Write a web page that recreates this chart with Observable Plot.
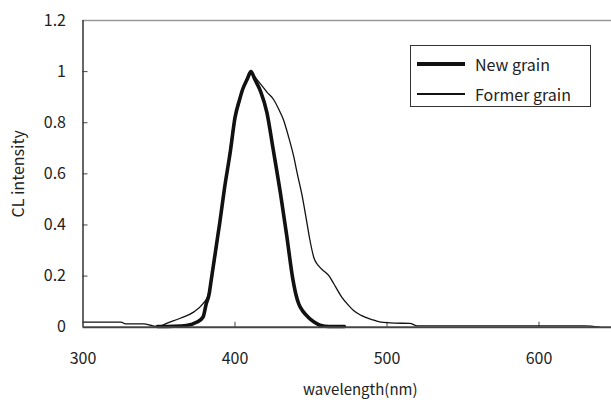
<!DOCTYPE html>
<html>
<head>
<meta charset="utf-8">
<script src="https://cdn.jsdelivr.net/npm/d3@7"></script>
<script src="https://cdn.jsdelivr.net/npm/@observablehq/plot@0.6"></script>
<style>
  html, body { margin: 0; padding: 0; background: #fff; }
  #wrap { position: relative; width: 611px; height: 400px; overflow: hidden; font-family: "Noto Sans CJK JP", "Noto Sans", sans-serif; }
  #legend { position: absolute; left: 410px; top: 45px; width: 181px; height: 62px; border: 1px solid #333; box-sizing: border-box; background: #fff; }
  .row { position: absolute; left: 0; display: flex; align-items: center; height: 20px; }
  .sample { width: 48px; margin-left: 6px; margin-right: 10px; background: #111; }
  .lab { font-size: 16px; color: #222; white-space: nowrap; }
</style>
</head>
<body>
<div id="wrap"></div>
<script>
// Series: New grain (thick)
const newWavelength = [349, 360, 368, 375, 379, 381, 383, 384, 386, 388, 390, 393, 397, 400, 403, 405, 408, 410.5, 413, 417, 421, 425, 430, 434, 438, 440, 442, 445, 448, 452, 456, 462, 472];
const newIntensity  = [0.003, 0.004, 0.007, 0.02, 0.04, 0.09, 0.13, 0.17, 0.25, 0.33, 0.41, 0.54, 0.69, 0.82, 0.89, 0.93, 0.97, 1.0, 0.97, 0.92, 0.84, 0.70, 0.52, 0.36, 0.19, 0.13, 0.09, 0.06, 0.04, 0.02, 0.008, 0.003, 0.003];
// Series: Former grain (thin)
const formerWavelength = [300, 325, 328, 340, 346, 350, 355, 364, 373, 379, 382, 385, 390, 395, 400, 405, 410.5, 413, 417, 421, 425.5, 429, 432, 435, 438.7, 441, 444, 447, 449, 452, 455, 458, 462, 465, 470, 474, 478, 483, 490, 496, 505, 515, 520, 630, 640];
const formerIntensity  = [0.02, 0.02, 0.013, 0.013, 0.005, 0.003, 0.015, 0.035, 0.06, 0.092, 0.12, 0.2, 0.4, 0.62, 0.83, 0.93, 1.0, 0.98, 0.95, 0.92, 0.89, 0.85, 0.81, 0.75, 0.666, 0.6, 0.52, 0.42, 0.35, 0.27, 0.24, 0.222, 0.2, 0.17, 0.12, 0.09, 0.065, 0.046, 0.03, 0.02, 0.016, 0.015, 0.005, 0.005, 0];
// Axis ticks
const xTicks = [300, 400, 500, 600];
const yTicks = [0, 0.2, 0.4, 0.6, 0.8, 1, 1.2];
const seriesNames = ["New grain", "Former grain"];
const xLabel = "wavelength(nm)";
const yLabel = "CL intensity";

const newData = newWavelength.map((w, i) => ({w, v: newIntensity[i]}));
const formerData = formerWavelength.map((w, i) => ({w, v: formerIntensity[i]}));

const font = '"Noto Sans CJK JP", "Noto Sans", sans-serif';

const chart = Plot.plot({
  width: 611,
  height: 400,
  marginLeft: 82.5,
  marginRight: 0,
  marginTop: 20,
  marginBottom: 73.3,
  style: {fontFamily: font, fontSize: "16px", color: "#222", background: "#fff"},
  x: {domain: [300, 647.7]},
  y: {domain: [0, 1.2]},
  marks: [
    Plot.ruleY([1.2], {stroke: "#9a9a9a", strokeWidth: 1.5}),
    Plot.axisY({ticks: yTicks, tickSize: 0, tickPadding: 17, tickFormat: d => String(d), fontSize: 16, label: null}),
    Plot.axisY({ticks: yTicks.slice(1, -1), tickSize: -5, text: null, stroke: "#444", label: null}),
    Plot.axisX({ticks: xTicks, tickSize: 0, tickPadding: 25, tickFormat: d => String(d), fontSize: 16, label: null}),
    Plot.axisX({ticks: xTicks.slice(1), tickSize: -5, text: null, stroke: "#444", label: null}),
    Plot.line(formerData, {x: "w", y: "v", stroke: "#111", strokeWidth: 1.3, curve: "monotone-x"}),
    Plot.line(newData, {x: "w", y: "v", stroke: "#111", strokeWidth: 3.6, curve: "monotone-x"}),
    Plot.ruleY([0], {stroke: "#444", strokeWidth: 2}),
    Plot.ruleX([300], {stroke: "#333", strokeWidth: 1.5}),
    Plot.text([xLabel], {frameAnchor: "bottom", dx: 13, dy: 63, lineAnchor: "middle", fontSize: 15, fill: "#222"}),
    Plot.text([yLabel], {frameAnchor: "left", dx: -64, rotate: -90, lineAnchor: "middle", textAnchor: "middle", fontSize: 16, fill: "#222"})
  ]
});

const wrap = document.getElementById("wrap");
wrap.appendChild(chart);

const legend = document.createElement("div");
legend.id = "legend";
seriesNames.forEach((name, i) => {
  const row = document.createElement("div");
  row.className = "row";
  row.style.top = (i === 0 ? 8 : 38) + "px";
  const s = document.createElement("div");
  s.className = "sample";
  s.style.height = (i === 0 ? 4 : 1.3) + "px";
  const t = document.createElement("span");
  t.className = "lab";
  t.textContent = name;
  row.appendChild(s);
  row.appendChild(t);
  legend.appendChild(row);
});
wrap.appendChild(legend);
</script>
</body>
</html>
